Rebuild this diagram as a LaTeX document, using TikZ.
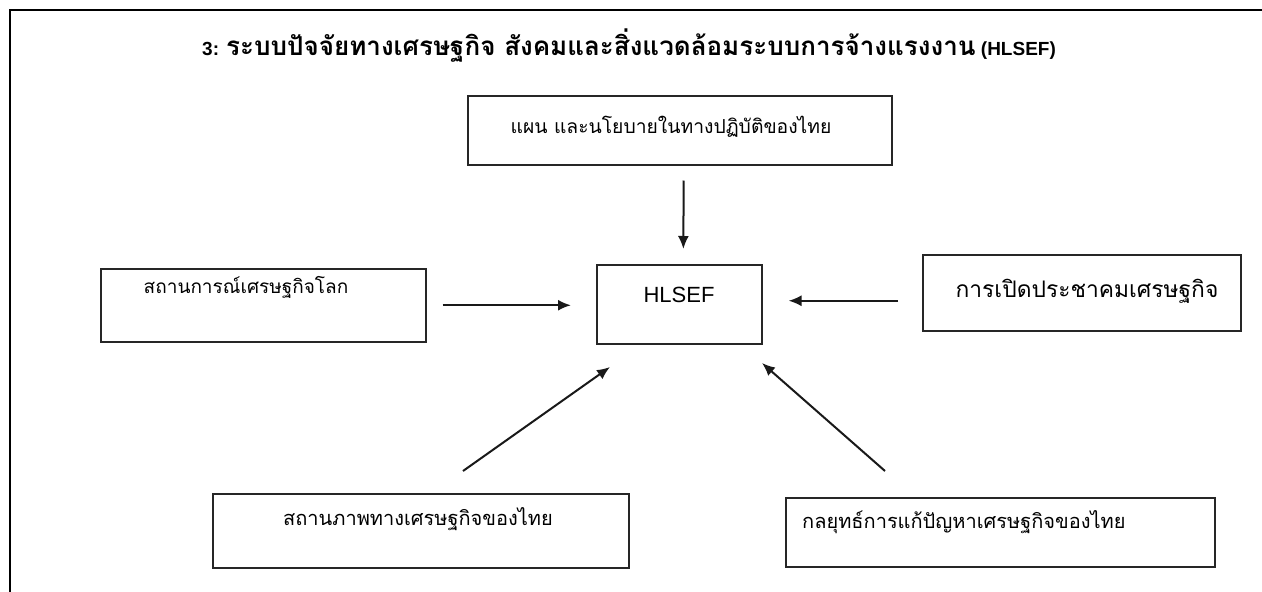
\documentclass[tikz,border=0pt]{standalone}
\usepackage{fontspec}
\setmainfont{Liberation Sans}
\newfontfamily\thaifont[Script=Thai]{Loma}
\usetikzlibrary{arrows.meta}
\begin{document}
\begin{tikzpicture}[x=1pt,y=-1pt,
  box/.style={draw=black!85,line width=1.5pt,rectangle,inner sep=0pt,anchor=north west},
  lbl/.style={inner sep=0pt,font=\thaifont\fontsize{20}{24}\selectfont},
  ttl/.style={inner sep=0pt,font=\fontsize{19}{23}\selectfont\bfseries},
  conn/.style={draw=black!90,line width=2pt,-{Latex[length=13pt,width=11pt]}}]
\useasboundingbox (0,0) rectangle (1262,592);
% frame
\draw[line width=2.5pt] (10,620) -- (10,10) -- (1290,10);
% boxes
\node[box,minimum width=424pt,minimum height=69pt] (pol) at (467,95) {};
\node[box,minimum width=165pt,minimum height=79pt] (hl) at (596,264) {};
\node[box,minimum width=325pt,minimum height=73pt] (wl) at (100,268) {};
\node[box,minimum width=318pt,minimum height=76pt] (ec) at (922,254) {};
\node[box,minimum width=416pt,minimum height=74pt] (sl) at (212,493) {};
\node[box,minimum width=429pt,minimum height=69pt] (st) at (785,497) {};
% texts
\node[ttl,anchor=west] (title) at (202,46) {3: {\thaifont\fontsize{26}{30}\selectfont\bfseries ระบบปัจจัยทางเศรษฐกิจ สังคมและสิ่งแวดล้อมระบบการจ้างแรงงาน} (HLSEF)};
\node[lbl,font=\thaifont\fontsize{19.3}{23}\selectfont] (poltxt) at (671,127) {แผน และนโยบายในทางปฏิบัติของไทย};
\node[inner sep=0pt,font=\fontsize{22}{26}\selectfont] (hltxt) at (679,295) {HLSEF};
\node[lbl,font=\thaifont\fontsize{19}{23}\selectfont] (wltxt) at (246,287) {สถานการณ์เศรษฐกิจโลก};
\node[lbl,font=\thaifont\fontsize{22.8}{27}\selectfont] (ectxt) at (1087,291) {การเปิดประชาคมเศรษฐกิจ};
\node[lbl] (sltxt) at (418,519) {สถานภาพทางเศรษฐกิจของไทย};
\node[lbl,anchor=west] (sttxt) at (802,522) {กลยุทธ์การแก้ปัญหาเศรษฐกิจของไทย};
% connectors
\draw[conn,shorten <=15pt,shorten >=15pt] ([xshift=4pt]pol.south) -- ([xshift=4pt]hl.north);
\draw[conn,shorten <=16pt,shorten >=25pt] (wl.east) -- (wl.east -| hl.west);
\draw[conn,shorten <=24pt,shorten >=26pt] ([yshift=-8pt]ec.west) -- ([yshift=-8pt]ec.west -| hl.east);
\coordinate (slA) at (463,471);
\coordinate (slB) at (610,367);
\coordinate (stA) at (885,471);
\coordinate (stB) at (762,363);
\draw[conn] (slA) -- (slB);
\draw[conn] (stA) -- (stB);
\end{tikzpicture}
\end{document}
